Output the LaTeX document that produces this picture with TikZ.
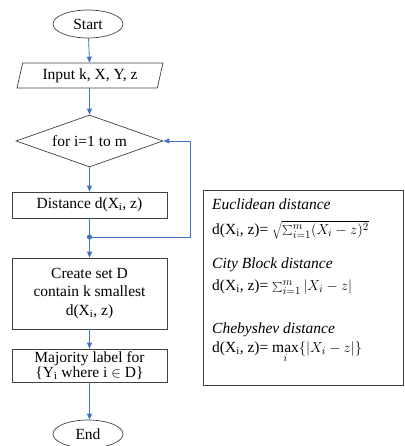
\documentclass[tikz,border=0pt]{standalone}
\usepackage{fontspec}
\setmainfont{Liberation Serif}
\usetikzlibrary{shapes.geometric,arrows.meta}
\definecolor{arrowblue}{HTML}{4472C4}
\definecolor{edge}{HTML}{404040}
\begin{document}
\begin{tikzpicture}[x=1pt,y=-1pt,
  every node/.style={font=\fontsize{15.5}{17}\selectfont, inner sep=0pt},
  term/.style={draw=edge, line width=0.7pt, ellipse, minimum width=70pt, minimum height=28pt},
  io/.style={draw=edge, line width=0.7pt, trapezium, trapezium left angle=68, trapezium right angle=112, trapezium stretches body=true, minimum width=146pt, minimum height=25pt},
  decision/.style={draw=edge, line width=0.7pt, diamond, aspect=2.8, minimum width=147pt, minimum height=52pt},
  proc/.style={draw=edge, line width=0.7pt, rectangle, minimum width=155pt, align=center},
  flow/.style={draw=arrowblue, line width=0.8pt, -{Triangle[length=6pt,width=5pt]}},
  flowline/.style={draw=arrowblue, line width=0.8pt},
  infobox/.style={draw=edge, line width=0.7pt, rectangle, minimum width=200pt, minimum height=195pt}
]
\useasboundingbox (0,0) rectangle (404,446);
\node[term] (start) at (88,24) {Start};
\node[io] (input) at (90,75.5) {Input k, X, Y, z};
\node[decision] (loop) at (89.5,141) {for i=1 to m};
\node[proc, minimum height=26pt] (dist) at (89.5,205) {Distance d(X\textsubscript{i}, z)};
\node[proc, minimum height=71pt, font=\fontsize{15.5}{18.5}\selectfont] (create) at (89.5,293.5) {Create set D\\contain k smallest\\d(X\textsubscript{i}, z)};
\node[proc, minimum height=33pt, font=\fontsize{15.5}{15}\selectfont] (major) at (89.5,365.5) {Majority label for\\\{Y\textsubscript{i} where i \ensuremath{\in} D\}};
\node[term] (end) at (88,434) {End};
\coordinate (join) at (89.5,237);
\coordinate (loopc1) at (190,237);
\coordinate (loopc2) at (190,141);
\fill[arrowblue] (join) circle (2.6pt);
\draw[flow] (start) -- (input);
\draw[flow] (input.south -| loop.north) -- (loop.north);
\draw[flow] (loop.south) -- (dist.north);
\draw[flowline] (dist.south) -- (join);
\draw[flow] (join) -- (create.north);
\draw[flow] (join) -- (loopc1) -- (loopc2) -- (loop.east);
\draw[flow] (create.south) -- (major.north);
\draw[flow] (major.south) -- (end.north -| major.south);
\node[infobox] (info) at (303,287.5) {};
\node[anchor=west] (eu) at (212,204) {\textit{Euclidean distance}};
\node[anchor=west] (euf) at (212,230) {d(X\textsubscript{i}, z)= $\sqrt{\sum_{i=1}^{m}(X_i-z)^2}$};
\node[anchor=west] (cb) at (212,265) {\textit{City Block distance}};
\node[anchor=west] (cbf) at (212,287) {d(X\textsubscript{i}, z)= $\sum_{i=1}^{m}|X_i-z|$};
\node[anchor=west] (ch) at (212,330) {\textit{Chebyshev distance}};
\node[anchor=west] (chf) at (212,352) {d(X\textsubscript{i}, z)= $\max\limits_{i}\{|X_i-z|\}$};
\end{tikzpicture}
\end{document}
